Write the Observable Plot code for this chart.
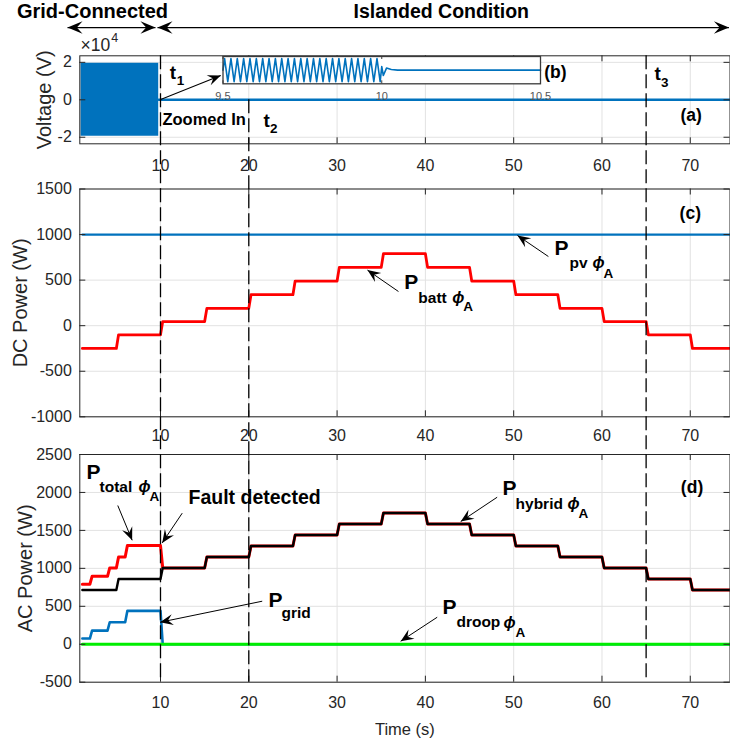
<!DOCTYPE html>
<html><head><meta charset="utf-8">
<script src="https://cdn.jsdelivr.net/npm/d3@7"></script>
<script src="https://cdn.jsdelivr.net/npm/@observablehq/plot@0.6"></script>
<style>
html,body{margin:0;padding:0;background:#fff;}
#fig{position:relative;width:730px;height:748px;overflow:hidden;background:#fff;}
#fig svg{position:absolute;left:0;top:0;}
</style></head><body><div id="fig"></div>
<script>
// ================= DATA =================
const xTicks = [10, 20, 30, 40, 50, 60, 70];
const voltTicks = [-2, 0, 2];                       // ×10^4 V
const dcTicks = [-1000, -500, 0, 500, 1000, 1500];
const acTicks = [-500, 0, 500, 1000, 1500, 2000, 2500];
const insetTicks = [9.5, 10, 10.5];

// (a) phase voltage (×10^4 V): dense 50 Hz wave drawn as its envelope, then ~0 after t1
const voltBlockT = [1.0, 9.8];
const voltBlockHi = [1.95, 1.95];
const voltBlockLo = [-1.95, -1.95];
const voltAfterT = [9.8, 74.5];
const voltAfterV = [0, 0];

// (b) zoomed-in voltage between 9.5 s and 10.5 s (extremes of each half cycle)
const insetT = [9.500,
  9.505, 9.515, 9.525, 9.535, 9.545, 9.555, 9.565, 9.575, 9.585, 9.595,
  9.605, 9.615, 9.625, 9.635, 9.645, 9.655, 9.665, 9.675, 9.685, 9.695,
  9.705, 9.715, 9.725, 9.735, 9.745, 9.755, 9.765, 9.775, 9.785, 9.795,
  9.805, 9.815, 9.825, 9.835, 9.845, 9.855, 9.865, 9.875, 9.885, 9.895,
  9.905, 9.915, 9.925, 9.935, 9.945, 9.955, 9.965, 9.975, 9.985, 9.995,
  10.000, 10.005, 10.015, 10.030, 10.050, 10.500];
const insetV = [0,
  1.95, -1.95, 1.95, -1.95, 1.95, -1.95, 1.95, -1.95, 1.95, -1.95,
  1.95, -1.95, 1.95, -1.95, 1.95, -1.95, 1.95, -1.95, 1.95, -1.95,
  1.95, -1.95, 1.95, -1.95, 1.95, -1.95, 1.95, -1.95, 1.95, -1.95,
  1.95, -1.95, 1.95, -1.95, 1.95, -1.95, 1.95, -1.95, 1.95, -1.95,
  1.95, -1.95, 1.95, -1.95, 1.95, -1.95, 1.95, -1.95, 1.95, -1.95,
  0.6, -0.9, 0.35, 0.1, 0, 0];

// (c) DC power (W)
const pvT = [1.15, 74.5];
const pvW = [1000, 1000];
const stepT = [1.15, 5, 10, 15, 20, 25, 30, 35, 40, 45, 50, 55, 60, 65, 70, 74.5];
const battW = [-250, -100, 45, 190, 340, 490, 640, 790, 640, 490, 340, 190, 45, -100, -250];

// (d) AC power (W)
const hybridW = [715, 860, 1005, 1150, 1295, 1440, 1585, 1730, 1585, 1440, 1295, 1150, 1005, 860, 715];
const totalT = [1.15, 2, 4, 5, 6, 10, 15, 20, 25, 30, 35, 40, 45, 50, 55, 60, 65, 70, 74.5];
const totalW = [790, 895, 1005, 1150, 1300, 1005, 1150, 1295, 1440, 1585, 1730, 1585, 1440, 1295, 1150, 1005, 860, 715];
const gridT = [1.15, 2, 4, 6, 10, 74.5];
const gridW = [75, 180, 290, 440, 0];
const droopT = [1.15, 74.5];
const droopW = [0, 0];

// event instants t1, t2, t3
const eventT = [10, 20, 65];

// ================= LAYOUT / STYLE =================
const W = 730, H = 748;
const X_DOMAIN = [0.86, 74.5];
const FRAME_L = 79.3, FRAME_R = 729.5;
const PA = {top: 55.3, bottom: 143.3, domain: [-2.35, 2.35]};
const PC = {top: 188.5, bottom: 416.3, domain: [-1000, 1500]};
const PD = {top: 454, bottom: 681.7, domain: [-500, 2500]};
const PI = {left: 222.5, right: 540, top: 56, bottom: 83.3, xDomain: [9.5, 10.5], yDomain: [-2.3, 2.3]};
const SANS = "'Liberation Sans', Arial, Helvetica, sans-serif";
const AXIS = "#262626", GRID = "#e2e2e2";
const BLUE = "#0072BD", RED = "#ff0000", GREEN = "#00ee00";
const TICK_FS = 16;

const sx = d3.scaleLinear(X_DOMAIN, [FRAME_L, FRAME_R]);
const yScale = p => d3.scaleLinear(p.domain, [p.bottom, p.top]);
const syA = yScale(PA), syC = yScale(PC), syD = yScale(PD);

// ---------- helpers ----------
const series = (T, V) => T.map((t, i) => ({t, v: V[i]}));
function steps(T, L, ramp = 0.25) {
  const pts = [{t: T[0], v: L[0]}];
  for (let i = 1; i < L.length; i++) {
    pts.push({t: T[i], v: L[i - 1]});
    pts.push({t: T[i] + ramp, v: L[i]});
  }
  pts.push({t: T[T.length - 1], v: L[L.length - 1]});
  return pts;
}
const headSymbol = {
  draw(ctx, size) {
    const L = Math.sqrt(size / Math.PI), w = L * 0.42;
    ctx.moveTo(0, 0); ctx.lineTo(-w, L); ctx.lineTo(0, L * 0.62); ctx.lineTo(w, L); ctx.closePath();
  }
};
function arrows(list, sy, {width = 1, head = 13} = {}) {
  const ang = (x1, y1, x2, y2) => Math.atan2(sy(y2) - sy(y1), sx(x2) - sx(x1)) * 180 / Math.PI + 90;
  const heads = [];
  for (const a of list) {
    heads.push({x: a.x2, y: a.y2, r: ang(a.x1, a.y1, a.x2, a.y2)});
    if (a.both) heads.push({x: a.x1, y: a.y1, r: ang(a.x2, a.y2, a.x1, a.y1)});
  }
  return [
    Plot.link(list, {x1: "x1", y1: "y1", x2: "x2", y2: "y2", stroke: "black", strokeWidth: width}),
    Plot.dot(heads, {x: "x", y: "y", rotate: "r", symbol: headSymbol, r: head, fill: "black", stroke: "none"})
  ];
}
function texts(items) {
  return items.map(o => Plot.text([o], {
    x: "x", y: "y", text: "text", fontFamily: SANS, fontWeight: o.weight ?? "bold",
    fontSize: o.size ?? 18, dx: o.dx ?? 0, dy: o.dy ?? 0, textAnchor: o.anchor ?? "start",
    lineAnchor: "middle", fontStyle: o.style ?? "normal", fill: o.fill ?? "black"
  }));
}
function pLabel(x, y, sub, o) {
  const items = [
    {x, y, text: "P", size: 21},
    {x, y, text: sub, size: 15.5, dx: o.subDx, dy: o.subDy}
  ];
  if (o.aDx != null) {
    items.push({x, y, text: "ϕ", size: 16, dx: o.phiDx, dy: o.subDy, style: "italic"});
    items.push({x, y, text: "A", size: 13.5, dx: o.aDx, dy: o.aDy});
  }
  return texts(items);
}
function axes(p, yTicks, {xLabelDy, yLabel, yLabelX}) {
  const fh = p.bottom - p.top, fw = FRAME_R - FRAME_L, tk = 6;
  const midY = (p.domain[0] + p.domain[1]) / 2;
  return {
    grid: [
      Plot.ruleX(xTicks, {x: d => d, stroke: GRID, strokeWidth: 1}),
      Plot.ruleY(yTicks, {y: d => d, stroke: GRID, strokeWidth: 1})
    ],
    box: [
      Plot.frame({stroke: AXIS, strokeWidth: 1}),
      Plot.ruleX(xTicks, {x: d => d, stroke: AXIS, insetTop: fh - tk}),
      Plot.ruleX(xTicks, {x: d => d, stroke: AXIS, insetBottom: fh - tk}),
      Plot.ruleY(yTicks, {y: d => d, stroke: AXIS, insetRight: fw - tk}),
      Plot.ruleY(yTicks, {y: d => d, stroke: AXIS, insetLeft: fw - tk}),
      Plot.text(xTicks, {x: d => d, frameAnchor: "bottom", dy: xLabelDy, text: d => String(d),
        textAnchor: "middle", lineAnchor: "middle", fontFamily: SANS, fontSize: TICK_FS, fill: AXIS}),
      Plot.text(yTicks, {y: d => d, frameAnchor: "left", dx: -8, textAnchor: "end", lineAnchor: "middle",
        text: d => String(d), fontFamily: SANS, fontSize: TICK_FS, fill: AXIS}),
      Plot.text([yLabel], {x: () => sx.invert(yLabelX), y: () => midY, rotate: -90, text: d => d,
        textAnchor: "middle", lineAnchor: "middle", fontFamily: SANS, fontSize: 20, fill: AXIS})
    ]
  };
}
function makePanel(p, marks) {
  return Plot.plot({
    width: W, height: H,
    marginLeft: FRAME_L, marginRight: W - FRAME_R, marginTop: p.top, marginBottom: H - p.bottom,
    x: {domain: X_DOMAIN, axis: null},
    y: {domain: p.domain, axis: null},
    style: {background: "transparent", overflow: "visible"},
    marks
  });
}

// ================= PANEL (a) =================
const aAx = axes(PA, voltTicks, {xLabelDy: 22, yLabel: "Voltage (V)", yLabelX: 44});
const voltBlock = voltBlockT.map((t, i) => ({t, lo: voltBlockLo[i], hi: voltBlockHi[i]}));
const panelA = makePanel(PA, [
  ...aAx.grid,
  Plot.areaY(voltBlock, {x: "t", y1: "lo", y2: "hi", fill: BLUE}),
  Plot.line(series(voltAfterT, voltAfterV), {x: "t", y: "v", stroke: BLUE, strokeWidth: 2.6}),
  ...aAx.box,
  // figure headings and their arrows
  ...texts([
    {x: 2.3, y: 4.72, text: "Grid-Connected", size: 20, anchor: "middle"},
    {x: 41.8, y: 4.72, text: "Islanded Condition", size: 19.5, anchor: "middle"},
    {x: 0.94, y: 2.92, text: "×10", size: 17.5, weight: "normal", fill: AXIS},
    {x: 4.42, y: 3.32, text: "4", size: 12.5, weight: "normal", fill: AXIS},
    {x: 11.04, y: 1.46, text: "t", size: 19},
    {x: 11.04, y: 1.46, text: "1", size: 13.5, dx: 7, dy: 8.5},
    {x: 21.66, y: -1.11, text: "t", size: 19},
    {x: 21.66, y: -1.11, text: "2", size: 13.5, dx: 6.5, dy: 8},
    {x: 65.96, y: 1.40, text: "t", size: 19},
    {x: 65.96, y: 1.40, text: "3", size: 13.5, dx: 6.5, dy: 9.5},
    {x: 10.22, y: -1.08, text: "Zoomed In", size: 16.5},
    {x: 70.1, y: -0.84, text: "(a)", size: 17.5, anchor: "middle"},
    {x: 54.73, y: 1.46, text: "(b)", size: 17.5, anchor: "middle"}
  ]),
  ...arrows([
    {x1: -0.53, y1: 3.86, x2: 9.43, y2: 3.86, both: true},
    {x1: 9.66, y1: 3.86, x2: 74.38, y2: 3.86, both: true}
  ], syA, {width: 1.3, head: 15}),
  ...arrows([{x1: 9.95, y1: 0, x2: 16.82, y2: 1.30}], syA, {width: 1.1, head: 13})
]);

// ================= INSET (b) =================
const insetFh = PI.bottom - PI.top;
const panelB = Plot.plot({
  width: W, height: H,
  marginLeft: PI.left, marginRight: W - PI.right, marginTop: PI.top, marginBottom: H - PI.bottom,
  x: {domain: PI.xDomain, axis: null},
  y: {domain: PI.yDomain, axis: null},
  style: {background: "transparent", overflow: "visible"},
  marks: [
    Plot.frame({fill: "white", stroke: "none"}),
    Plot.line(series(insetT, insetV), {x: "t", y: "v", stroke: BLUE, strokeWidth: 1.6}),
    Plot.frame({stroke: "#3a3a3a", strokeWidth: 1.3}),
    Plot.ruleX(insetTicks, {x: d => d, stroke: "#3a3a3a", insetTop: insetFh - 3}),
    Plot.ruleX(insetTicks, {x: d => d, stroke: "#3a3a3a", insetBottom: insetFh - 3}),
    Plot.text(insetTicks, {x: d => d, frameAnchor: "bottom", dy: 13, text: d => String(d),
      textAnchor: "middle", lineAnchor: "middle", fontFamily: SANS, fontSize: 11, fill: "#555"})
  ]
});

// ================= PANEL (c) =================
const cAx = axes(PC, dcTicks, {xLabelDy: 19, yLabel: "DC Power (W)", yLabelX: 20});
const panelC = makePanel(PC, [
  ...cAx.grid,
  Plot.line(series(pvT, pvW), {x: "t", y: "v", stroke: BLUE, strokeWidth: 2.3}),
  Plot.line(steps(stepT, battW), {x: "t", y: "v", stroke: RED, strokeWidth: 2.8}),
  ...cAx.box,
  ...texts([{x: 70.0, y: 1237, text: "(c)", size: 17.5, anchor: "middle"}]),
  ...pLabel(54.62, 852, "pv", {subDx: 15, subDy: 14.5, phiDx: 38, aDx: 49, aDy: 25.5}),
  ...pLabel(37.62, 479, "batt", {subDx: 14, subDy: 15.5, phiDx: 48, aDx: 59, aDy: 25}),
  ...arrows([
    {x1: 53.93, y1: 759, x2: 50.43, y2: 990},
    {x1: 36.95, y1: 375, x2: 33.44, y2: 610}
  ], syC, {width: 1, head: 13})
]);

// ================= PANEL (d) =================
const dAx = axes(PD, acTicks, {xLabelDy: 21, yLabel: "AC Power (W)", yLabelX: 25});
const eventStart = [PA.domain[1], 0, PA.domain[1]];
const guides = eventT.map((t, i) => ({t, y1: syD.invert(syA(eventStart[i])), y2: PD.domain[0]}));
const panelD = makePanel(PD, [
  ...dAx.grid,
  Plot.line(steps(totalT, totalW), {x: "t", y: "v", stroke: RED, strokeWidth: 3}),
  Plot.line(steps(stepT, hybridW), {x: "t", y: "v", stroke: "black", strokeWidth: 2.4}),
  Plot.line(steps(gridT, gridW), {x: "t", y: "v", stroke: BLUE, strokeWidth: 2.6}),
  Plot.line(series(droopT, droopW), {x: "t", y: "v", stroke: GREEN, strokeWidth: 3.2}),
  ...dAx.box,
  Plot.text(["Time (s)"], {frameAnchor: "bottom", dy: 48, text: d => d, textAnchor: "middle", lineAnchor: "middle",
    fontFamily: SANS, fontSize: 16.5, fill: AXIS}),
  ...texts([
    {x: 70.2, y: 2065, text: "(d)", size: 17.5, anchor: "middle"},
    {x: 13.17, y: 1933, text: "Fault detected", size: 19.5}
  ]),
  ...pLabel(1.62, 2269, "total", {subDx: 13, subDy: 14.5, phiDx: 52, aDx: 63, aDy: 24.5}),
  ...pLabel(48.74, 2059, "hybrid", {subDx: 13, subDy: 16, phiDx: 65, aDx: 76, aDy: 25.5}),
  ...pLabel(41.93, 484, "droop", {subDx: 14, subDy: 15, phiDx: 61, aDx: 73, aDy: 25}),
  ...pLabel(22.23, 576, "grid", {subDx: 13, subDy: 12.5}),
  ...arrows([
    {x1: 48.13, y1: 1937, x2: 44.0, y2: 1617},
    {x1: 41.34, y1: 356, x2: 37.2, y2: 40},
    {x1: 5.16, y1: 1828, x2: 6.79, y2: 1370},
    {x1: 12.46, y1: 1727, x2: 10.19, y2: 1335},
    {x1: 21.52, y1: 567, x2: 9.95, y2: 290}
  ], syD, {width: 1, head: 13}),
  // event guides t1, t2, t3 spanning all panels
  Plot.ruleX(guides, {x: "t", y1: "y1", y2: "y2", stroke: "black", strokeWidth: 1.3, strokeDasharray: "14,5"})
]);

const fig = document.getElementById("fig");
fig.append(panelA, panelB, panelC, panelD);
</script></body></html>
